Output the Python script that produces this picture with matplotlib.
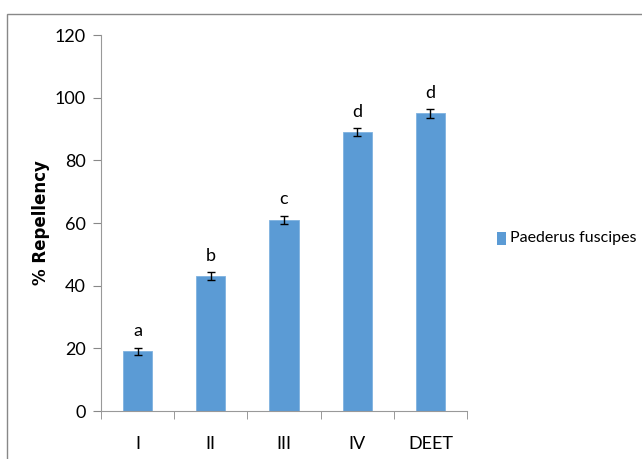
import matplotlib.pyplot as plt
from matplotlib.patches import Rectangle

# data
groups = ['I', 'II', 'III', 'IV', 'DEET']
repellency = [19, 43, 61, 89, 95]
err = [1.2, 1.3, 1.2, 1.3, 1.5]
letters = ['a', 'b', 'c', 'd', 'd']
series_name = 'Paederus fuscipes'

plt.rcParams['font.family'] = ['Lato', 'DejaVu Sans']

fig = plt.figure(figsize=(6.42, 4.59), dpi=100)
ax = fig.add_axes([101/642, 1 - 411/459, 366/642, 376/459])

x = list(range(len(groups)))
bars = ax.bar(x, repellency, width=0.4, color='#5B9BD5', edgecolor='#7FB2E0', linewidth=0.6,
              yerr=err, capsize=3, error_kw=dict(ecolor='black', elinewidth=1, capthick=1),
              label=series_name)

for xi, v, lab in zip(x, repellency, letters):
    ax.text(xi, v + 6.5, lab, ha='center', va='center', fontsize=13)

ax.set_xlim(-0.5, len(groups) - 0.5)
ax.set_ylim(0, 120)
ax.set_yticks(range(0, 121, 20))
ax.set_xticks(x)
ax.set_xticklabels(groups)
ax.set_xticks([i - 0.5 for i in range(len(groups) + 1)], minor=True)
ax.tick_params(axis='x', which='major', length=0, pad=18, labelsize=13)
ax.tick_params(axis='x', which='minor', length=6, color='#888888', direction='out')
ax.tick_params(axis='y', length=6, color='#888888', labelsize=13, pad=5)

for s in ['top', 'right']:
    ax.spines[s].set_visible(False)
for s in ['left', 'bottom']:
    ax.spines[s].set_color('#999999')

ax.set_ylabel('% Repellency', fontsize=12, fontweight='bold', family='DejaVu Sans')
ax.yaxis.set_label_coords(-51/366, 0.5)

# legend placed to the right of the plot
fig.patches.append(Rectangle((497/642, 1 - 245/459), 9/642, 13/459, transform=fig.transFigure,
                             facecolor='#5B9BD5', edgecolor='none'))
fig.text(510/642, 1 - 238/459, series_name, fontsize=11.5, va='center', ha='left')

# outer chart border
fig.patches.append(Rectangle((7/642, -0.05), 1.0, 1 - 14/459 + 0.05, transform=fig.transFigure,
                             facecolor='none', edgecolor='#888888', linewidth=1))

fig.savefig('out.png', dpi=100)
